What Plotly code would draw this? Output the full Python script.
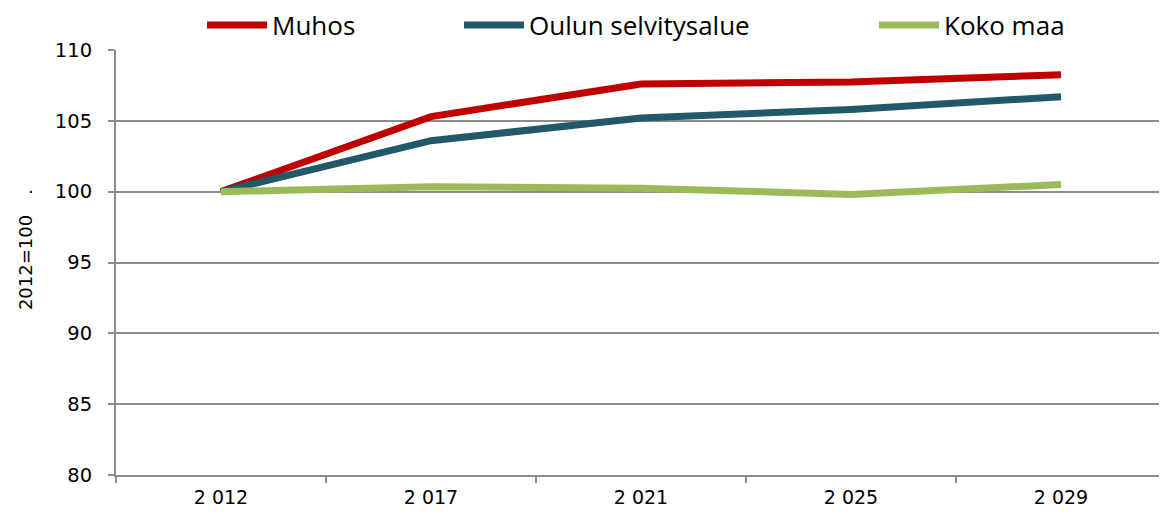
import plotly.graph_objects as go

years = ["2 012", "2 017", "2 021", "2 025", "2 029"]
muhos = [100.0, 105.3, 107.6, 107.75, 108.25]
oulu = [100.0, 103.6, 105.2, 105.8, 106.7]
koko_maa = [100.0, 100.35, 100.25, 99.8, 100.5]

series = [
    ("Muhos", muhos, "#C00000", "legend", 0.1674),
    ("Oulun selvitysalue", oulu, "#215968", "legend2", 0.3891),
    ("Koko maa", koko_maa, "#9BBB59", "legend3", 0.7472),
]

TICK_FONT = "'DejaVu Sans', sans-serif"
LEGEND_FONT = "'Open Sans', sans-serif"
GRID = "#8C8C8C"

# the page body keeps an 8px margin, so the figure is 8px smaller than the window
W, H = 1159, 513

fig = go.Figure()
legends = {}
for name, values, color, legend_id, legend_x in series:
    fig.add_trace(
        go.Scatter(
            x=years,
            y=values,
            name=name,
            mode="lines",
            line=dict(color=color, width=7),
            legend=legend_id,
            showlegend=True,
            hovertemplate="%{x}: %{y}<extra>" + name + "</extra>",
        )
    )
    legends[legend_id] = dict(
        orientation="h",
        x=legend_x,
        xref="container",
        xanchor="left",
        y=1 - 17 / H,
        yref="container",
        yanchor="middle",
        font=dict(family=LEGEND_FONT, size=26),
        itemwidth=60,
        borderwidth=0,
        bgcolor="rgba(0,0,0,0)",
    )

fig.update_layout(
    width=W,
    height=H,
    margin=dict(l=108, r=1, t=42, b=46),
    paper_bgcolor="white",
    plot_bgcolor="white",
    font=dict(family=TICK_FONT, color="black", size=19),
    showlegend=True,
    **legends,
)

fig.add_annotation(
    text="·", xref="paper", yref="paper", x=-0.086, y=0.696,
    showarrow=False, font=dict(size=18),
)

fig.update_xaxes(
    type="category",
    range=[-0.5, 4.5],
    tickson="boundaries",
    ticks="outside",
    ticklen=6,
    tickwidth=2,
    tickcolor=GRID,
    showline=True,
    linecolor=GRID,
    linewidth=2,
    showgrid=False,
    automargin=False,
    ticklabelstandoff=4,
    tickfont=dict(size=19),
)
fig.update_yaxes(
    range=[80, 110],
    dtick=5,
    ticks="outside",
    ticklen=6,
    tickwidth=2,
    tickcolor=GRID,
    showline=True,
    linecolor=GRID,
    linewidth=2,
    showgrid=True,
    gridcolor=GRID,
    gridwidth=2,
    zeroline=False,
    automargin=False,
    ticklabelstandoff=12,
    tickfont=dict(size=19.5),
    title=dict(text="2012=100", font=dict(size=18), standoff=18),
)

fig.write_html("out.html")
